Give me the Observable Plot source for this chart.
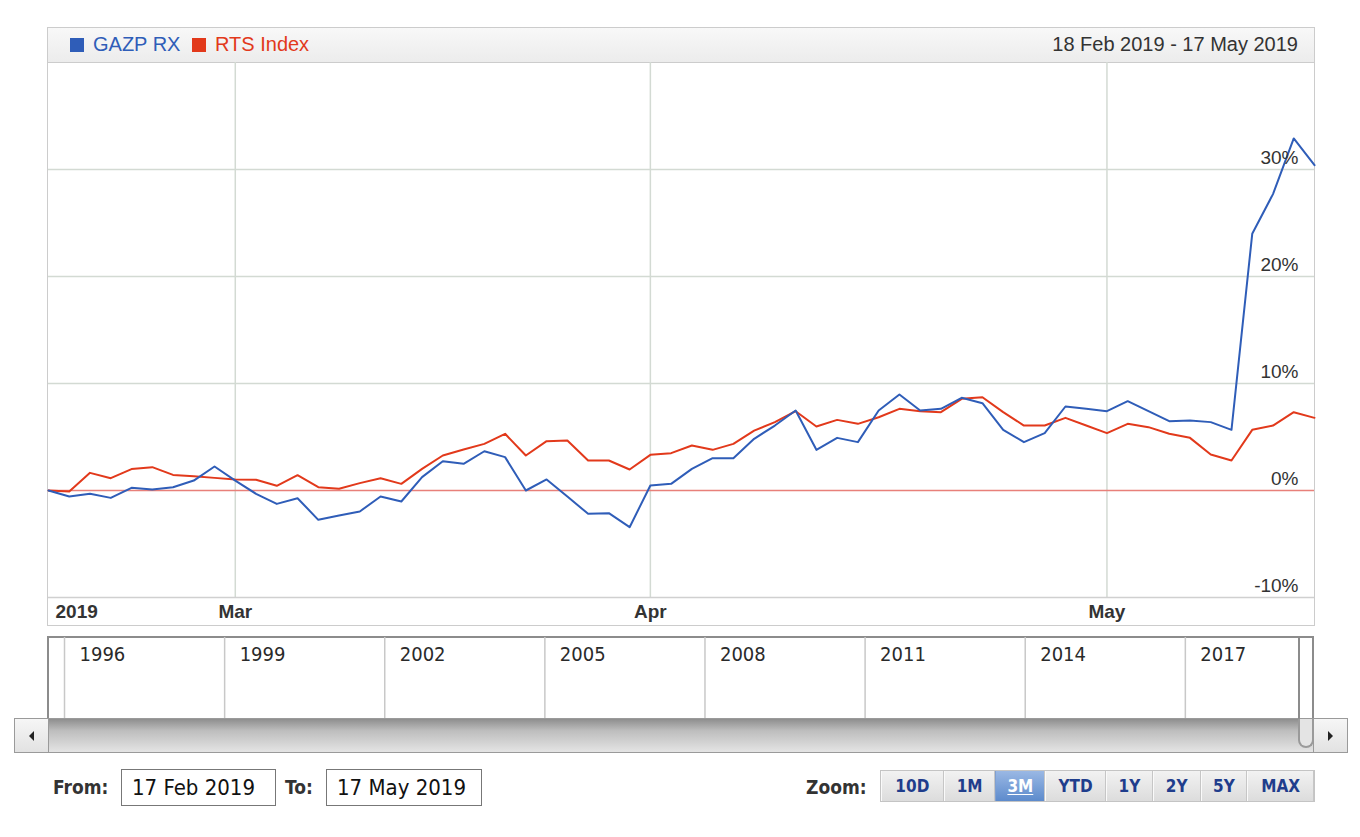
<!DOCTYPE html>
<html>
<head>
<meta charset="utf-8">
<script src="https://cdn.jsdelivr.net/npm/d3@7"></script>
<script src="https://cdn.jsdelivr.net/npm/@observablehq/plot@0.6"></script>
<style>
  html, body { margin: 0; padding: 0; background: #fff; }
  body { width: 1360px; height: 837px; position: relative; overflow: hidden; font-family: "Liberation Sans", Arial, sans-serif; }
  .abs { position: absolute; box-sizing: border-box; }
  #box { left: 47px; top: 27px; width: 1268px; height: 599px; border: 1px solid #ccc; }
  #header { left: 48px; top: 28px; width: 1266px; height: 35px; border-bottom: 1px solid #ccc; background: linear-gradient(#f8f8f8, #ececec); }
  .leg { position: absolute; top: 5px; font-size: 20px; line-height: 23px; white-space: nowrap; }
  .sq { display: inline-block; width: 14px; height: 14px; vertical-align: -1px; margin-right: 9px; }
  #range { position: absolute; right: 16px; top: 5px; font-size: 20px; line-height: 23px; color: #333; white-space: nowrap; }
  #chart { left: 48px; top: 62px; }
  #nav { left: 48px; top: 637px; }
  #navframe { left: 47px; top: 636px; width: 1267px; height: 83px; border-top: 2px solid #8c8c8c; border-left: 2px solid #8c8c8c; border-right: 2px solid #8c8c8c; }
  #handle { left: 1298px; top: 636px; width: 2px; height: 92px; background: #8c8c8c; }
  #handleU { left: 1298px; top: 719px; width: 16px; height: 29px; border: 2px solid #9a9a9a; border-top: none; border-bottom-left-radius: 8px; border-bottom-right-radius: 8px; background: #e4e4e4; }
  #scroll { left: 14px; top: 718px; width: 1334px; height: 35px; border: 1px solid #9a9a9a; background: linear-gradient(#8e8e8e, #bdbdbd 35%, #e4e4e4); }
  .btnarrow { position: absolute; top: 0; width: 33px; height: 33px; background: linear-gradient(#f6f6f6, #e2e2e2); border-color: #9a9a9a; border-style: solid; border-width: 0; }
  #sl { left: 0; border-right-width: 1px; }
  #sr { right: 0; border-left-width: 1px; }
  .tri { position: absolute; top: 12px; width: 0; height: 0; border-top: 5px solid transparent; border-bottom: 5px solid transparent; }
  #sl .tri { left: 14px; border-right: 5px solid #222; }
  #sr .tri { left: 14px; border-left: 5px solid #222; }
  .lbl { font-family: "DejaVu Sans Condensed", "DejaVu Sans", sans-serif; font-weight: bold; font-size: 19px; color: #333; white-space: nowrap; line-height: 24px; }
  .inp { height: 37px; border: 1px solid #777; font-family: "DejaVu Sans Condensed", "DejaVu Sans", sans-serif; font-size: 22px; line-height: 35px; color: #111; padding-left: 10px; white-space: nowrap; background: #fff; }
  #zoombar { left: 880px; top: 770px; width: 435px; height: 32px; border: 1px solid #c4c4c4; display: flex; background: #ddd; }
  .zb { height: 30px; box-sizing: border-box; border-right: 1px solid #c6c6c6; border-left: 1px solid #fafafa; background: linear-gradient(#f2f2f2, #dcdcdc); font-family: "DejaVu Sans Condensed", "DejaVu Sans", sans-serif; font-weight: bold; font-size: 17px; color: #1f3d8c; text-align: center; line-height: 30px; }
  .zb.sel { background: linear-gradient(#9ab8e4, #5d8bcc); color: #fff; text-decoration: underline; text-underline-offset: 2px; border-left-color: #7f9fd0; }
</style>
</head>
<body>
<div id="box" class="abs"></div>
<div id="header" class="abs">
  <div class="leg" style="left:22px;color:#2f5db8"><span class="sq" style="background:#2f5db8"></span>GAZP RX</div>
  <div class="leg" style="left:144px;color:#e2391b"><span class="sq" style="background:#e2391b"></span>RTS Index</div>
  <div id="range">18 Feb 2019 - 17 May 2019</div>
</div>
<div id="chart" class="abs"></div>

<div id="navframe" class="abs"></div>
<div id="nav" class="abs"></div>
<div id="scroll" class="abs">
  <div id="sl" class="btnarrow"><div class="tri"></div></div>
  <div id="sr" class="btnarrow"><div class="tri"></div></div>
</div>
<div id="handle" class="abs"></div>
<div id="handleU" class="abs"></div>

<div class="abs lbl" style="left:53px;top:775px;">From:</div>
<div class="abs inp" style="left:121px;top:769px;width:155px;">17 Feb 2019</div>
<div class="abs lbl" style="left:285px;top:775px;">To:</div>
<div class="abs inp" style="left:326px;top:769px;width:156px;">17 May 2019</div>
<div class="abs lbl" style="left:806px;top:775px;">Zoom:</div>
<div id="zoombar" class="abs"></div>

<script>
// ---- Data (trading days, % change since 18 Feb 2019) ----
const dates = [
  "2019-02-18","2019-02-19","2019-02-20","2019-02-21","2019-02-22","2019-02-25","2019-02-26","2019-02-27","2019-02-28",
  "2019-03-01","2019-03-04","2019-03-05","2019-03-06","2019-03-07","2019-03-11","2019-03-12","2019-03-13","2019-03-14","2019-03-15",
  "2019-03-18","2019-03-19","2019-03-20","2019-03-21","2019-03-22","2019-03-25","2019-03-26","2019-03-27","2019-03-28","2019-03-29",
  "2019-04-01","2019-04-02","2019-04-03","2019-04-04","2019-04-05","2019-04-08","2019-04-09","2019-04-10","2019-04-11","2019-04-12",
  "2019-04-15","2019-04-16","2019-04-17","2019-04-18","2019-04-19","2019-04-22","2019-04-23","2019-04-24","2019-04-25","2019-04-26",
  "2019-04-29","2019-04-30",
  "2019-05-02","2019-05-03","2019-05-06","2019-05-07","2019-05-08","2019-05-10","2019-05-13","2019-05-14","2019-05-15","2019-05-16","2019-05-17"
];
const gazp = [
  0, -0.56, -0.31, -0.69, 0.25, 0.1, 0.3, 0.93, 2.24,
  0.93, -0.31, -1.25, -0.72, -2.74, -2.34, -1.96, -0.56, -1.03, 1.25,
  2.74, 2.49, 3.67, 3.12, 0.0, 1.03, -0.56, -2.18, -2.12, -3.43,
  0.47, 0.62, 2.02, 3.02, 3.02, 4.83, 6.07, 7.48, 3.8, 4.92,
  4.52, 7.48, 8.97, 7.48, 7.63, 8.66, 8.16, 5.67, 4.52, 5.36,
  7.85, 7.63,
  7.41, 8.35, 7.41, 6.48, 6.54, 6.39, 5.67, 23.99, 27.7, 32.9, 30.4
];
const rts = [
  0, -0.1, 1.65, 1.15, 2.0, 2.18, 1.46, 1.34, 1.18,
  1.03, 1.0, 0.44, 1.43, 0.31, 0.16, 0.69, 1.15, 0.62, 2.02,
  3.27, 3.83, 4.36, 5.3, 3.27, 4.61, 4.67, 2.8, 2.8, 1.96,
  3.33, 3.49, 4.2, 3.8, 4.36, 5.6, 6.39, 7.41, 5.98, 6.6,
  6.23, 6.85, 7.63, 7.41, 7.32, 8.57, 8.72, 7.32, 6.07, 6.07,
  6.79, 6.07,
  5.36, 6.23, 5.92, 5.3, 4.92, 3.36, 2.8, 5.67, 6.07, 7.32, 6.79
];
const monthTickDates = ["2019-02-18", "2019-03-01", "2019-04-01", "2019-05-02"];
const monthLabels = ["2019", "Mar", "Apr", "May"];
const yTicks = [-10, 0, 10, 20, 30];
const yGrid = [10, 20, 30];
const navYears = [1996, 1999, 2002, 2005, 2008, 2011, 2014, 2017];
const zoomButtons = ["10D", "1M", "3M", "YTD", "1Y", "2Y", "5Y", "MAX"];
const zoomWidths = [63, 52, 50, 61, 47, 48, 47, 67];
const zoomSelected = "3M";

// ---- Build ----
const BLUE = "#2f5db8", RED = "#e2391b", GRID = "#d3dad3";
const rows = dates.map((d, i) => ({i, date: d, gazp: gazp[i], rts: rts[i]}));
const tickIdx = monthTickDates.map(d => dates.indexOf(d));
const tickRows = tickIdx.map((i, k) => ({i, label: monthLabels[k]}));

const chart = Plot.plot({
  width: 1266, height: 563,
  marginTop: 0, marginBottom: 28, marginLeft: 0, marginRight: 0,
  x: {type: "linear", domain: [0, dates.length - 1], axis: null},
  y: {domain: [-10, 40], axis: null},
  style: {fontFamily: "'Liberation Sans', Arial, sans-serif", background: "transparent", overflow: "visible"},
  marks: [
    Plot.ruleY(yGrid, {stroke: GRID, strokeWidth: 1.5}),
    Plot.ruleX(tickRows.slice(1), {x: "i", stroke: GRID, strokeWidth: 1.5}),
    Plot.ruleY([-10], {stroke: "#d0d0d0", strokeWidth: 1.5}),
    Plot.ruleY([0], {stroke: "#e8807a", strokeWidth: 1.3}),
    Plot.lineY(rows, {x: "i", y: "rts", stroke: RED, strokeWidth: 2}),
    Plot.lineY(rows, {x: "i", y: "gazp", stroke: BLUE, strokeWidth: 2}),
    Plot.text(yTicks, {x: dates.length - 1, y: d => d, text: d => d + "%", textAnchor: "end", lineAnchor: "middle", dx: -16, dy: -12, fontSize: 19, fill: "#333"}),
    Plot.text(tickRows.slice(0, 1), {x: "i", text: "label", frameAnchor: "bottom", textAnchor: "start", lineAnchor: "middle", dx: 7, dy: 14, fontSize: 19, fontWeight: "bold", fill: "#333"}),
    Plot.text(tickRows.slice(1), {x: "i", text: "label", frameAnchor: "bottom", textAnchor: "middle", lineAnchor: "middle", dy: 14, fontSize: 19, fontWeight: "bold", fill: "#333"})
  ]
});
document.getElementById("chart").append(chart);

const nav = Plot.plot({
  width: 1266, height: 81,
  margin: 0,
  x: {type: "linear", domain: [1995.70, 2019.42], axis: null},
  y: {domain: [0, 1], axis: null},
  style: {fontFamily: "'DejaVu Sans Condensed', 'DejaVu Sans', sans-serif", background: "transparent", overflow: "visible"},
  marks: [
    Plot.ruleX(navYears, {stroke: "#c8c8c8", strokeWidth: 1.5}),
    Plot.text(navYears, {x: d => d, text: d => String(d), frameAnchor: "top", textAnchor: "start", lineAnchor: "middle", dx: 15, dy: 17, fontSize: 20, fill: "#2a2a2a"})
  ]
});
document.getElementById("nav").append(nav);

const zb = document.getElementById("zoombar");
zoomButtons.forEach((b, k) => {
  const el = document.createElement("div");
  el.className = "zb" + (b === zoomSelected ? " sel" : "");
  el.style.width = zoomWidths[k] + "px";
  el.textContent = b;
  zb.append(el);
});
</script>
</body>
</html>
